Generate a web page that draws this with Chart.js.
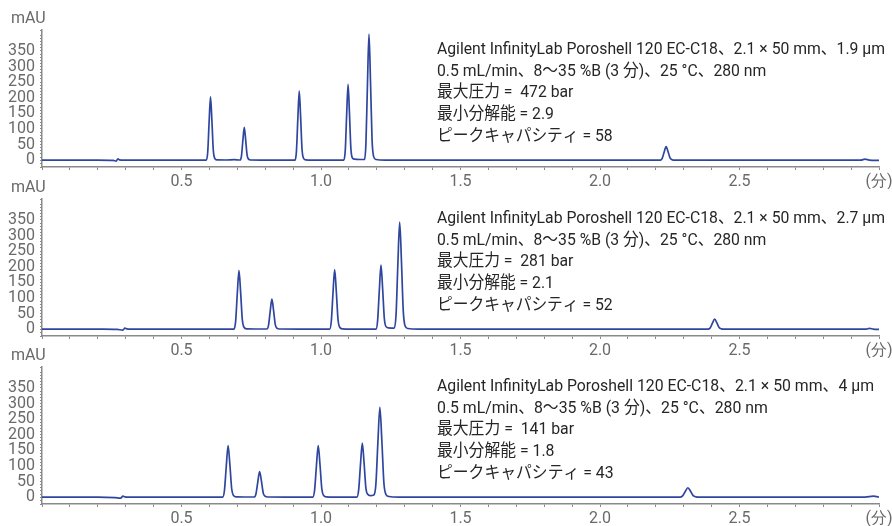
<!DOCTYPE html>
<html>
<head>
<meta charset="utf-8">
<script src="https://cdn.jsdelivr.net/npm/chart.js@4.4.1/dist/chart.umd.min.js"></script>
<style>
  html, body { margin: 0; padding: 0; background: #fff; width: 892px; height: 526px; overflow: hidden; }
  .panel { position: absolute; left: 0; width: 892px; height: 189px; }
</style>
</head>
<body>
<div class="panel" style="top:0px"><canvas id="chart1"></canvas></div>
<div class="panel" style="top:169px"><canvas id="chart2"></canvas></div>
<div class="panel" style="top:337px"><canvas id="chart3"></canvas></div>
<script>
// Chromatogram traces: [retention time (min), absorbance (mAU)]
// 1.9 µm column
const trace19um = [
  [0, 0], [0.2, 0], [0.255, -1], [0.266, -3], [0.272, 4], [0.278, 1], [0.29, 0], [0.45, 0],
  [0.589, 0], [0.594, 26], [0.599, 122], [0.604, 203], [0.609, 126], [0.614, 32], [0.619, 6], [0.627, 1],
  [0.66, 0.5], [0.69, 1.5], [0.705, 0.5],
  [0.710, 0.5], [0.715, 14], [0.720, 63], [0.725, 105], [0.730, 65], [0.735, 17], [0.740, 3], [0.748, 0.5],
  [0.80, 0],
  [0.907, 0], [0.912, 29], [0.917, 133], [0.922, 221], [0.927, 137], [0.932, 35], [0.937, 7], [0.945, 1],
  [1.00, 0],
  [1.082, 0], [1.087, 32], [1.092, 146], [1.097, 243], [1.102, 151], [1.107, 39], [1.112, 8], [1.120, 3], [1.140, 2],
  [1.156, 2], [1.161, 53], [1.1665, 242], [1.172, 404], [1.1775, 250], [1.183, 65], [1.1885, 12], [1.197, 2],
  [1.23, 0], [2.0, 0],
  [2.216, 0], [2.223, 6], [2.230, 26], [2.237, 43], [2.244, 27], [2.251, 7], [2.258, 1.5], [2.269, 0],
  [2.9, 0], [2.935, 0], [2.95, 3], [2.965, 0], [3.0, -1]
];

// 2.7 µm column
const trace27um = [
  [0, 0], [0.22, 0], [0.27, -1], [0.29, -3], [0.297, 3], [0.304, 1], [0.315, 0], [0.5, 0],
  [0.688, 0], [0.694, 25], [0.700, 114], [0.706, 188], [0.712, 117], [0.718, 30], [0.724, 6], [0.733, 1],
  [0.78, 0.5],
  [0.806, 0.5], [0.812, 13], [0.818, 58], [0.824, 96], [0.830, 60], [0.836, 15], [0.842, 3], [0.851, 0.5],
  [0.95, 0],
  [1.031, 0], [1.037, 26], [1.043, 116], [1.049, 191], [1.055, 119], [1.061, 31], [1.067, 6], [1.076, 1],
  [1.15, 0],
  [1.197, 0], [1.203, 28], [1.209, 124], [1.215, 205], [1.221, 128], [1.227, 34], [1.233, 8], [1.242, 4],
  [1.2625, 3], [1.269, 46], [1.2755, 208], [1.282, 343], [1.2885, 214], [1.295, 56], [1.3015, 10], [1.311, 2],
  [1.35, 0], [2.2, 0],
  [2.387, 0], [2.395, 4], [2.403, 19], [2.411, 32], [2.419, 20], [2.427, 5], [2.435, 1], [2.447, 0],
  [2.94, 0], [2.955, 0], [2.965, 2.5], [2.98, 0], [3.0, -1]
];

// 4 µm column
const trace4um = [
  [0, 0], [0.2, 0], [0.262, -1.5], [0.282, -3], [0.29, 3], [0.297, 1], [0.31, 0], [0.5, 0],
  [0.6475, 0], [0.654, 22], [0.6605, 99], [0.667, 165], [0.6735, 103], [0.680, 26], [0.6865, 5], [0.696, 1],
  [0.74, 0.5],
  [0.7605, 0.5], [0.767, 11], [0.7735, 49], [0.780, 82], [0.7865, 51], [0.793, 13], [0.7995, 3], [0.809, 0.5],
  [0.9, 0],
  [0.9705, 0], [0.977, 22], [0.9835, 99], [0.990, 165], [0.9965, 103], [1.003, 26], [1.0095, 5], [1.019, 1],
  [1.08, 0],
  [1.1285, 0], [1.135, 23], [1.1415, 104], [1.148, 173], [1.1545, 108], [1.161, 28], [1.1675, 9], [1.176, 5],
  [1.1894, 7], [1.1966, 40], [1.2038, 173], [1.211, 288], [1.2182, 179], [1.2254, 46], [1.2326, 9], [1.243, 2],
  [1.28, 0], [2.1, 0],
  [2.2865, 0], [2.296, 4], [2.3055, 18], [2.315, 30], [2.3245, 19], [2.334, 5], [2.3435, 1], [2.358, 0],
  [2.95, 0], [2.98, 3], [2.995, 1], [3.0, 0]
];

// Axis ticks and labels
const xTickValues = [0.5, 1.0, 1.5, 2.0, 2.5, 3.0];
const xTickLabels = ['0.5', '1.0', '1.5', '2.0', '2.5', '(分)'];
const yTickValues = [0, 50, 100, 150, 200, 250, 300, 350];
const yUnit = 'mAU';

// Method notes for each column
const notes19um = [
  'Agilent InfinityLab Poroshell 120 EC-C18、2.1 × 50 mm、1.9 µm',
  '0.5 mL/min、8～35 %B (3 分)、25 °C、280 nm',
  '最大圧力 =  472 bar',
  '最小分解能 = 2.9',
  'ピークキャパシティ = 58'
];
const notes27um = [
  'Agilent InfinityLab Poroshell 120 EC-C18、2.1 × 50 mm、2.7 µm',
  '0.5 mL/min、8～35 %B (3 分)、25 °C、280 nm',
  '最大圧力 =  281 bar',
  '最小分解能 = 2.1',
  'ピークキャパシティ = 52'
];
const notes4um = [
  'Agilent InfinityLab Poroshell 120 EC-C18、2.1 × 50 mm、4 µm',
  '0.5 mL/min、8～35 %B (3 分)、25 °C、280 nm',
  '最大圧力 =  141 bar',
  '最小分解能 = 1.8',
  'ピークキャパシティ = 43'
];

const LINE_COLOR = '#2f469f';
const AXIS_COLOR = '#8a8a8a';
const AXIS_TEXT = '#6a6a6a';
const NOTE_TEXT = '#262626';
const TICK_FONT = { family: 'Roboto', size: 16 };

// Unit label above the y axis and the method notes at the right
const panelText = {
  id: 'panelText',
  afterDraw(chart, args, opts) {
    const ctx = chart.ctx;
    const area = chart.chartArea;
    ctx.save();
    ctx.textBaseline = 'middle';
    ctx.textAlign = 'left';
    ctx.fillStyle = AXIS_TEXT;
    ctx.font = '16px Roboto';
    ctx.fillText(yUnit, 11, area.top - 11);

    ctx.fillStyle = NOTE_TEXT;
    ctx.font = '17px Roboto, "Noto Sans CJK JP"';
    const firstWidth = ctx.measureText(opts.lines[0]).width;
    const sx = opts.width / firstWidth;
    opts.lines.forEach((line, i) => {
      ctx.save();
      ctx.translate(opts.x, area.top + 20 + i * 21.6);
      ctx.scale(sx, 1);
      ctx.fillText(line, 0, 0);
      ctx.restore();
    });
    ctx.restore();
  }
};

function makeChart(id, trace, notes, noteWidth) {
  return new Chart(document.getElementById(id), {
    type: 'line',
    data: {
      datasets: [{
        data: trace.map(([t, v]) => ({ x: t, y: v })),
        borderColor: LINE_COLOR,
        borderWidth: 1.7,
        pointRadius: 0,
        cubicInterpolationMode: 'monotone',
        fill: false
      }]
    },
    options: {
      responsive: true,
      maintainAspectRatio: false,
      animation: false,
      events: [],
      layout: { padding: { top: 30, right: 13, left: 0, bottom: 0 } },
      plugins: {
        legend: { display: false },
        tooltip: { enabled: false },
        panelText: { lines: notes, x: 437, width: noteWidth }
      },
      scales: {
        x: {
          type: 'linear',
          min: 0,
          max: 3.0,
          afterFit: s => { s.height = 22; s.paddingLeft = 0; s.paddingRight = 0; },
          ticks: {
            stepSize: 0.1,
            autoSkip: false,
            maxRotation: 0,
            padding: 2,
            color: AXIS_TEXT,
            font: TICK_FONT,
            callback: v => {
              const i = xTickValues.findIndex(t => Math.abs(t - v) < 1e-6);
              return i >= 0 ? xTickLabels[i] : '';
            }
          },
          grid: { drawOnChartArea: false, drawTicks: true, tickLength: 3, tickColor: AXIS_COLOR, tickWidth: 1 },
          border: { display: true, color: AXIS_COLOR, width: 1.5 }
        },
        y: {
          min: -22,
          max: 417,
          afterFit: s => { s.width = 42; },
          ticks: {
            stepSize: 10,
            autoSkip: false,
            padding: 5,
            color: AXIS_TEXT,
            font: { family: 'Roboto', size: 16 },
            callback: v => {
              const r = Math.round(v);
              return Math.abs(v - r) < 1e-6 && yTickValues.includes(r) ? String(r) : '';
            }
          },
          grid: { drawOnChartArea: false, drawTicks: true, tickLength: 2, tickColor: AXIS_COLOR, tickWidth: 1 },
          border: { display: true, color: AXIS_COLOR, width: 1.5 }
        }
      }
    },
    plugins: [panelText]
  });
}

makeChart('chart1', trace19um, notes19um, 448);
makeChart('chart2', trace27um, notes27um, 448);
makeChart('chart3', trace4um, notes4um, 437);
</script>
</body>
</html>
